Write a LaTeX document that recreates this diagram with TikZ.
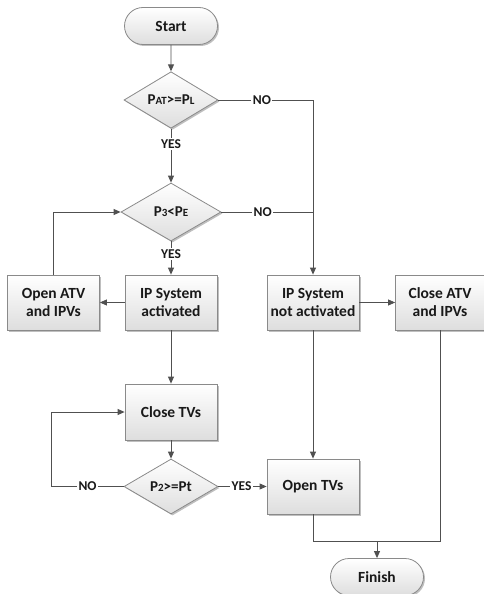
\documentclass[tikz,border=0pt]{standalone}
\usepackage{fontspec}
\setmainfont{Carlito}
\usetikzlibrary{shapes.geometric,shapes.misc,arrows.meta,shadows}
\newcommand{\smc}[1]{{\fontsize{11}{12}\selectfont #1}}
\definecolor{edge}{HTML}{8A8A8A}
\definecolor{wire}{HTML}{505050}
\tikzset{
  base/.style={draw=edge, line width=0.8pt, top color=white, bottom color=black!13,
     drop shadow={shadow xshift=1.5pt, shadow yshift=-1.5pt, opacity=0.25, fill=black},
     font=\fontsize{15.5}{18}\selectfont\bfseries, text=black!90, align=center, inner sep=0pt},
  procbox/.style={base, rectangle, minimum width=92pt, minimum height=55pt},
  term/.style={base, rounded rectangle, minimum width=93pt, minimum height=37pt},
  decide/.style={base, diamond, minimum width=94pt, minimum height=55pt, font=\fontsize{15}{16}\selectfont\bfseries},
  conn/.style={draw=wire, line width=0.85pt},
  arr/.style={conn, -{Triangle[length=7pt,width=6pt]}},
  lbl/.style={fill=white, inner sep=1.5pt, font=\fontsize{13.5}{15}\selectfont\bfseries, text=black!90}
}
\begin{document}
\begin{tikzpicture}[x=1pt,y=-1pt]
\useasboundingbox (0,0) rectangle (484,594);
\node[term] (start) at (171,26) {Start};
\node[decide] (d1) at (171,100) {P\smc{AT}>=P\smc{L}};
\node[decide, minimum width=100pt, minimum height=58pt] (d2) at (171,212) {P\smc{3}<P\smc{E}};
\node[procbox] (openatv) at (53.5,302.5) {Open ATV\\and IPVs};
\node[procbox] (ipact) at (171,302.5) {IP System\\activated};
\node[procbox] (ipnot) at (313,302.5) {IP System\\not activated};
\node[procbox, minimum width=89pt] (closeatv) at (440,302.5) {Close ATV\\and IPVs};
\node[procbox, minimum height=56pt] (closetv) at (171,412) {Close TVs};
\node[decide] (d3) at (171,486.5) {P\smc{2}>=Pt};
\node[procbox] (opentv) at (313,486.5) {Open TVs};
\node[term] (finish) at (377,577) {Finish};
\coordinate (j) at (377,541);

\draw[arr] (start) -- (d1);
\draw[arr] (d1.south) -- node[lbl, pos=0.28] {YES} (d2.north);
\draw[conn] (d1.east) -- node[lbl, pos=0.46] {NO} (d1.east -| ipnot.north);
\draw[arr] (d1.east -| ipnot.north) -- (ipnot.north);
\draw[conn] (d2.east) -- node[lbl, pos=0.45] {NO} (d2.east -| ipnot.north);
\draw[arr] (d2.south) -- node[lbl, pos=0.38] {YES} (ipact.north);
\draw[arr] (ipact.west) -- (openatv.east);
\draw[arr] (openatv.north) |- (d2.west);
\draw[arr] (ipact.south) -- (closetv.north);
\draw[arr] (closetv.south) -- (d3.north);
\draw[arr] (d3.west) -- node[lbl, pos=0.5] {NO} ++(-72,0) |- (closetv.west);
\draw[arr] (d3.east) -- node[lbl, pos=0.48] {YES} (opentv.west);
\draw[arr] (ipnot.east) -- (closeatv.west);
\draw[arr] (ipnot.south) -- (opentv.north);
\draw[conn] (opentv.south) |- (closeatv.south |- j) -- (closeatv.south);
\draw[arr] (j) -- (finish.north);
\end{tikzpicture}
\end{document}
